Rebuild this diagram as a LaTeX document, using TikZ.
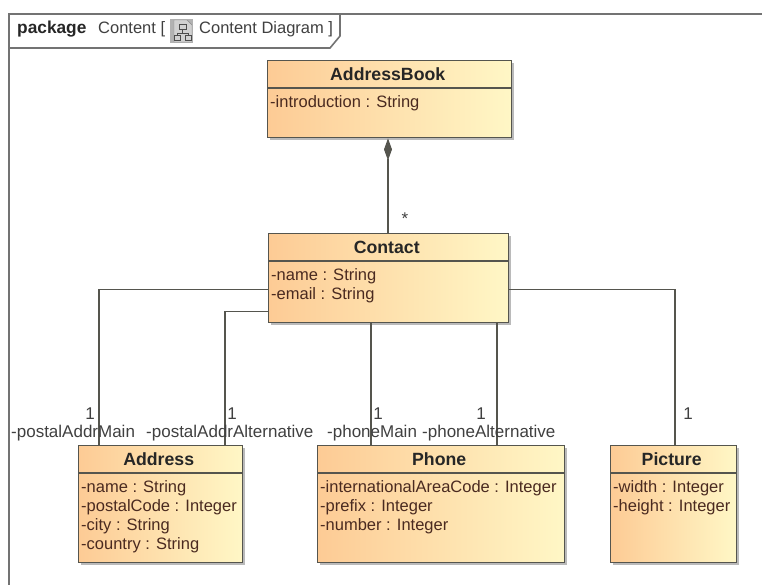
\documentclass[tikz,border=0pt]{standalone}
\usepackage{fontspec}
\setmainfont{Liberation Sans}
\usetikzlibrary{calc,shadows,arrows.meta}
\definecolor{lineGrey}{HTML}{55554E}
\definecolor{boxOrange}{HTML}{FDCB95}
\definecolor{boxYellow}{HTML}{FFF7C6}
\definecolor{textBrown}{HTML}{4A2A20}
\tikzset{
  umlBox/.style={draw=lineGrey,line width=1.4pt,inner sep=0pt,
    left color=boxOrange,right color=boxYellow,
    drop shadow={shadow xshift=2.5pt,shadow yshift=-2.5pt,opacity=0.45,fill=black!60}},
  umlName/.style={anchor=center,inner sep=0pt,text=black!85,font=\fontsize{17.7}{18}\selectfont\bfseries},
  umlAttr/.style={anchor=north west,inner sep=0pt,align=left,text=textBrown,
    font=\fontsize{16.5}{19.1}\selectfont},
  roleText/.style={inner sep=0pt,text=black!75,font=\fontsize{17}{17}\selectfont},
  connector/.style={draw=lineGrey,line width=1.1pt}
}
\begin{document}
\begin{tikzpicture}[x=1pt,y=-1pt]
  \useasboundingbox (0,0) rectangle (762,585);
  \fill[white] (0,0) rectangle (762,585);

  %% Diagram frame and its tab
  \draw[black!55,line width=1.6pt] (9,585) -- (9,14) -- (762,14);
  \draw[black!55,line width=1.6pt] (9,48) -- (330,48) -- (340,36) -- (340,14);
  \node[inner sep=0pt,anchor=base west,text=black!85,font=\fontsize{17.3}{18}\selectfont\bfseries] (FrameKind) at (17,33.5) {package};
  \node[inner sep=0pt,anchor=base west,text=black!75,font=\fontsize{16.5}{17}\selectfont] (FrameName) at (98,33.5) {Content [};
  \node[inner sep=0pt,anchor=base west,text=black!75,font=\fontsize{16.5}{17}\selectfont] (FrameDiagram) at (199,33.5) {Content Diagram ]};

  %% Icon in the tab
  \fill[black!30] (170,19) rectangle (193,43);
  \draw[black!45,fill=black!18] (174,20) -- (187,20) -- (192,25) -- (192,42) -- (174,42) -- cycle;
  \draw[black!70,line width=0.9pt] (179,24) rectangle (186,29) (182.5,29) -- (182.5,33) (177,33) -- (188,33)
    (177,33) -- (177,35) (188,33) -- (188,35) (174.5,35) rectangle (180,40) (185,35) rectangle (191,40);

  %% Class boxes: name/left/top/width/height
  \foreach \name/\xpos/\ypos/\wid/\hei in {AddressBook/267/60/244/77,Contact/268/233/240/89,
    Address/78/445/164/117,Phone/317/445/247/117,Picture/610/445/126/117}
  {
    \node[umlBox,minimum width=\wid pt,minimum height=\hei pt,anchor=north west] (\name) at (\xpos,\ypos) {};
    \draw[lineGrey,line width=1.2pt] ($(\name.north west)+(0,28)$) -- ($(\name.north east)+(0,28)$);
    \node[umlName] (\name Title) at ($(\name.north)+(-2,14)$) {\name};
  }

  %% Attributes
  \node[umlAttr] (AddressBookAttr) at ($(AddressBook.north west)+(3,35.5)$) {-introduction : String};
  \node[umlAttr] (ContactAttr) at ($(Contact.north west)+(3,35.5)$) {-name : String\\-email : String};
  \node[umlAttr] (AddressAttr) at ($(Address.north west)+(3,35.5)$)
    {-name : String\\-postalCode : Integer\\-city : String\\-country : String};
  \node[umlAttr] (PhoneAttr) at ($(Phone.north west)+(3,35.5)$)
    {-internationalAreaCode : Integer\\-prefix : Integer\\-number : Integer};
  \node[umlAttr] (PictureAttr) at ($(Picture.north west)+(3,35.5)$) {-width : Integer\\-height : Integer};

  %% Connectors
  \draw[connector,{Diamond[length=22pt,width=8pt,fill=lineGrey]}-] (AddressBook.south -| 388,0) -- (Contact.north -| 388,0);
  \draw[connector] ($(Contact.west)+(0,11)$) -| ($(Address.north west)+(21,0)$);
  \draw[connector] ($(Contact.west)+(0,33)$) -| ($(Address.north west)+(147,0)$);
  \draw[connector] ($(Contact.south west)+(103,0)$) -- ($(Phone.north west)+(54,0)$);
  \draw[connector] ($(Contact.south west)+(229,0)$) -- ($(Phone.north west)+(180,0)$);
  \draw[connector] ($(Contact.east)+(0,11)$) -| ($(Picture.north west)+(65,0)$);

  %% Multiplicities and roles
  \node[roleText] (StarMult) at (405,219) {*};
  \foreach \name/\xpos in {MainMult/90,AltMult/232,PhoneMult/378,PhoneAltMult/481,PictureMult/688}
    \node[roleText] (\name) at (\xpos,414) {1};
  \foreach \name/\xpos/\txt in {RoleMain/11/-postalAddrMain,RoleAlt/146/-postalAddrAlternative,
    RolePhone/327/-phoneMain,RolePhoneAlt/422/-phoneAlternative}
    \node[roleText,anchor=base west] (\name) at (\xpos,437.5) {\txt};
\end{tikzpicture}
\end{document}
